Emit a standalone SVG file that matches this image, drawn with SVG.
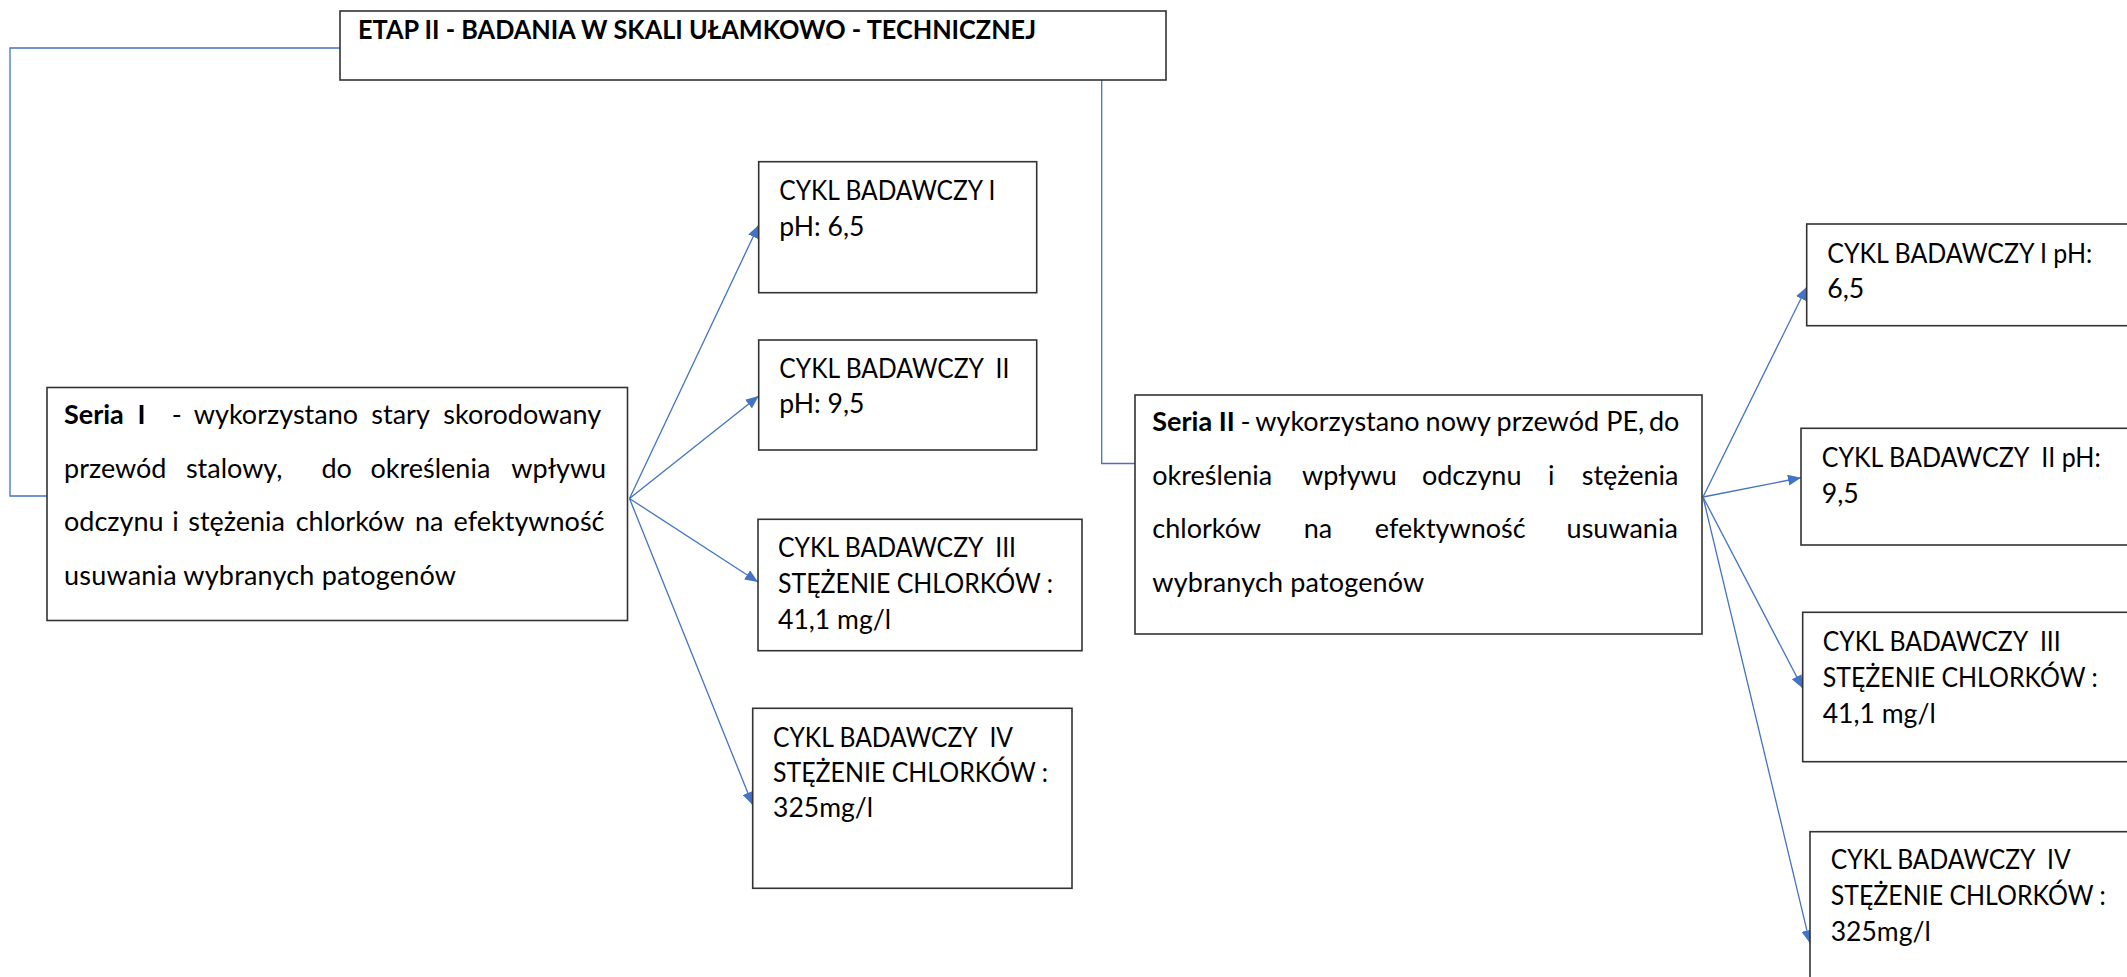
<svg xmlns="http://www.w3.org/2000/svg" width="2127" height="977" viewBox="0 0 2127 977">
<style>
.box{fill:#fff;stroke:#333;stroke-width:1.6}
.t{font-family:Lato,"Liberation Sans",sans-serif;font-size:27px;fill:#000;white-space:pre}
.b{font-weight:bold}
.conn{fill:none;stroke:#4472C4;stroke-width:1.3}
</style>
<defs>
<marker id="ah" viewBox="0 0 13 11" refX="13" refY="5.5" markerWidth="13" markerHeight="11" markerUnits="userSpaceOnUse" orient="auto">
<path d="M0,0 L13,5.5 L0,11 z" fill="#4472C4"/>
</marker>
</defs>
<rect width="2127" height="977" fill="#fff"/>
<g id="connectors">
<path class="conn" d="M340,48 H10 V496 H47"/>
<path class="conn" d="M1101.7,80 V463.5 H1135"/>
<line class="conn" x1="629.5" y1="498.5" x2="758.7" y2="225" marker-end="url(#ah)"/>
<line class="conn" x1="629.5" y1="498.5" x2="758.7" y2="396" marker-end="url(#ah)"/>
<line class="conn" x1="629.5" y1="498.5" x2="758" y2="582" marker-end="url(#ah)"/>
<line class="conn" x1="629.5" y1="498.5" x2="752.7" y2="805" marker-end="url(#ah)"/>
<line class="conn" x1="1703" y1="497" x2="1806.7" y2="287" marker-end="url(#ah)"/>
<line class="conn" x1="1703" y1="497" x2="1801" y2="477.7" marker-end="url(#ah)"/>
<line class="conn" x1="1703" y1="497" x2="1802.7" y2="688.3" marker-end="url(#ah)"/>
<line class="conn" x1="1703" y1="497" x2="1810" y2="943.3" marker-end="url(#ah)"/>
</g>
<g id="etap">
<rect class="box" x="340" y="11" width="826" height="69"/>
<text class="t b" x="358" y="39" textLength="678" lengthAdjust="spacingAndGlyphs">ETAP II - BADANIA W SKALI UŁAMKOWO - TECHNICZNEJ</text>
</g>
<g id="seria1">
<rect class="box" x="47" y="387.5" width="580.5" height="233"/>
<text class="t" y="424"><tspan class="b" x="64">Seria</tspan><tspan class="b" x="137.6">I</tspan><tspan x="171.7">-</tspan><tspan x="193.8">wykorzystano</tspan><tspan x="371.3">stary</tspan><tspan x="443.3">skorodowany</tspan></text>
<text class="t" y="477.5"><tspan x="64">przewód</tspan><tspan x="185.9">stalowy,</tspan><tspan x="321.4">do</tspan><tspan x="370.5">określenia</tspan><tspan x="511.3">wpływu</tspan></text>
<text class="t" y="531"><tspan x="64">odczynu</tspan><tspan x="172.2">i</tspan><tspan x="188.2">stężenia</tspan><tspan x="295.7">chlorków</tspan><tspan x="414.9">na</tspan><tspan x="453.6">efektywność</tspan></text>
<text class="t" x="64" y="584.5" textLength="392" lengthAdjust="spacing">usuwania wybranych patogenów</text>
</g>
<g id="s1c1">
<rect class="box" x="758.7" y="161.7" width="278" height="131"/>
<text class="t" x="779.3" y="200" textLength="216" lengthAdjust="spacingAndGlyphs">CYKL BADAWCZY I</text>
<text class="t" x="779.3" y="236" textLength="85" lengthAdjust="spacingAndGlyphs">pH: 6,5</text>
</g>
<g id="s1c2">
<rect class="box" x="758.7" y="340" width="278" height="110"/>
<text class="t" x="779.3" y="377.7" textLength="230" lengthAdjust="spacingAndGlyphs">CYKL BADAWCZY  II</text>
<text class="t" x="779.3" y="413" textLength="85" lengthAdjust="spacingAndGlyphs">pH: 9,5</text>
</g>
<g id="s1c3">
<rect class="box" x="758" y="519.3" width="324" height="131.4"/>
<text class="t" x="778" y="557" textLength="238" lengthAdjust="spacingAndGlyphs">CYKL BADAWCZY  III</text>
<text class="t" x="778" y="593" textLength="275" lengthAdjust="spacingAndGlyphs">STĘŻENIE CHLORKÓW :</text>
<text class="t" x="778" y="629" textLength="113" lengthAdjust="spacingAndGlyphs">41,1 mg/l</text>
</g>
<g id="s1c4">
<rect class="box" x="752.7" y="708.3" width="319.3" height="180"/>
<text class="t" x="773" y="746.7" textLength="240" lengthAdjust="spacingAndGlyphs">CYKL BADAWCZY  IV</text>
<text class="t" x="773" y="781.7" textLength="275" lengthAdjust="spacingAndGlyphs">STĘŻENIE CHLORKÓW :</text>
<text class="t" x="773" y="817.3" textLength="100" lengthAdjust="spacingAndGlyphs">325mg/l</text>
</g>
<g id="seria2">
<rect class="box" x="1135" y="395" width="567" height="239"/>
<text class="t" y="431"><tspan class="b" x="1152.3">Seria</tspan><tspan class="b" x="1218.7">II</tspan><tspan x="1240.4">-</tspan><tspan x="1255.3">wykorzystano</tspan><tspan x="1425.6">nowy</tspan><tspan x="1496.6">przewód</tspan><tspan x="1606.2">PE,</tspan><tspan x="1649">do</tspan></text>
<text class="t" y="484.5"><tspan x="1152.3">określenia</tspan><tspan x="1302">wpływu</tspan><tspan x="1421.9">odczynu</tspan><tspan x="1548">i</tspan><tspan x="1581.7">stężenia</tspan></text>
<text class="t" y="538"><tspan x="1152.3">chlorków</tspan><tspan x="1303.8">na</tspan><tspan x="1374.8">efektywność</tspan><tspan x="1566.6">usuwania</tspan></text>
<text class="t" x="1152.3" y="591.5" textLength="272" lengthAdjust="spacing">wybranych patogenów</text>
</g>
<g id="s2c1">
<rect class="box" x="1806.7" y="224" width="340" height="101.7"/>
<text class="t" x="1827.3" y="262.7" textLength="265" lengthAdjust="spacingAndGlyphs">CYKL BADAWCZY I pH:</text>
<text class="t" x="1827.3" y="298.3" textLength="37" lengthAdjust="spacingAndGlyphs">6,5</text>
</g>
<g id="s2c2">
<rect class="box" x="1801" y="428.3" width="345" height="116.7"/>
<text class="t" x="1821.7" y="466.7" textLength="279" lengthAdjust="spacingAndGlyphs">CYKL BADAWCZY  II pH:</text>
<text class="t" x="1821.7" y="502.7" textLength="37" lengthAdjust="spacingAndGlyphs">9,5</text>
</g>
<g id="s2c3">
<rect class="box" x="1802.7" y="612.3" width="345" height="149.4"/>
<text class="t" x="1822.7" y="650.7" textLength="238" lengthAdjust="spacingAndGlyphs">CYKL BADAWCZY  III</text>
<text class="t" x="1822.7" y="686.7" textLength="275" lengthAdjust="spacingAndGlyphs">STĘŻENIE CHLORKÓW :</text>
<text class="t" x="1822.7" y="722.7" textLength="113" lengthAdjust="spacingAndGlyphs">41,1 mg/l</text>
</g>
<g id="s2c4">
<rect class="box" x="1810" y="831.7" width="340" height="160"/>
<text class="t" x="1830.7" y="869.3" textLength="240" lengthAdjust="spacingAndGlyphs">CYKL BADAWCZY  IV</text>
<text class="t" x="1830.7" y="905" textLength="275" lengthAdjust="spacingAndGlyphs">STĘŻENIE CHLORKÓW :</text>
<text class="t" x="1830.7" y="941" textLength="100" lengthAdjust="spacingAndGlyphs">325mg/l</text>
</g>
</svg>
